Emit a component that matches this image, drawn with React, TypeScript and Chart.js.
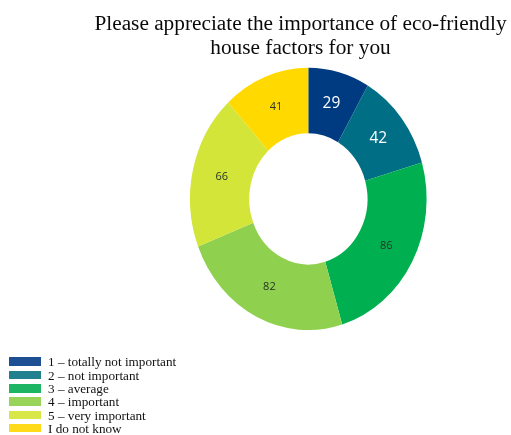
import React, { useEffect, useRef } from "react";
import { Chart, registerables } from "chart.js";

Chart.register(...registerables);

// ---- data ----
const categories = [
  "1 – totally not important",
  "2 – not important",
  "3 – average",
  "4 – important",
  "5 – very important",
  "I do not know",
];
const values = [29, 42, 86, 82, 66, 41];
const titleLines = [
  "Please appreciate the importance of eco-friendly",
  "house factors for you",
];

// ---- styles ----
const sliceColors = ["#003b82", "#006e84", "#00b050", "#8fd14f", "#d3e538", "#ffd900"];
const legendColors = ["#1d4f93", "#22808f", "#1db563", "#98d35a", "#d9e848", "#ffda1a"];
const labelColors = ["#ffffff", "#ffffff", "#263326", "#263326", "#263326", "#263326"];
const labelFonts = [
  "15.5px 'Open Sans'",
  "15.5px 'Open Sans'",
  "11px 'Open Sans'",
  "11px 'Open Sans'",
  "11px 'Open Sans'",
  "11px 'Open Sans'",
];
const Y_STRETCH = 1.109;

const ellipsePlugin = {
  id: "ellipseDonut",
  beforeDatasetsDraw(chart: any) {
    const arc = chart.getDatasetMeta(0).data[0];
    if (!arc) return;
    const { x, y } = arc;
    const ctx = chart.ctx;
    ctx.save();
    ctx.translate(x, y);
    ctx.scale(1, Y_STRETCH);
    ctx.translate(-x, -y);
  },
  afterDatasetsDraw(chart: any) {
    const ctx = chart.ctx;
    ctx.restore();
    const meta = chart.getDatasetMeta(0);
    const data = chart.data.datasets[0].data;
    meta.data.forEach((arc: any, i: number) => {
      const p = arc.getProps(
        ["x", "y", "startAngle", "endAngle", "innerRadius", "outerRadius"],
        true
      );
      const a = (p.startAngle + p.endAngle) / 2;
      const r = (p.innerRadius + p.outerRadius) / 2;
      const lx = p.x + Math.cos(a) * r;
      const ly = p.y + Math.sin(a) * r * Y_STRETCH;
      ctx.save();
      ctx.font = labelFonts[i];
      ctx.fillStyle = labelColors[i];
      ctx.textAlign = "center";
      ctx.textBaseline = "middle";
      ctx.fillText(String(data[i]), lx, ly);
      ctx.restore();
    });
  },
};

export default function App() {
  const canvasRef = useRef<HTMLCanvasElement | null>(null);

  useEffect(() => {
    const canvas = canvasRef.current;
    if (!canvas) return;
    const chart = new Chart(canvas, {
      type: "doughnut",
      data: {
        labels: categories,
        datasets: [
          {
            data: values,
            backgroundColor: sliceColors,
            borderWidth: 0,
            clip: false,
          } as any,
        ],
      },
      options: {
        responsive: false,
        animation: false,
        devicePixelRatio: 1,
        cutout: "50%",
        layout: {
          padding: { left: 190, right: 84.4, top: 80.6, bottom: 117.8 },
        },
        plugins: {
          legend: { display: false },
          tooltip: { enabled: false },
          title: { display: false },
        },
      },
      plugins: [ellipsePlugin],
    });
    return () => chart.destroy();
  }, []);

  return (
    <div
      style={{
        position: "absolute",
        left: 0,
        top: 0,
        width: 511,
        height: 435,
        background: "#ffffff",
        overflow: "hidden",
      }}
    >
      <canvas
        ref={canvasRef}
        width={511}
        height={435}
        style={{ position: "absolute", left: 0, top: 0, width: 511, height: 435 }}
      />
      <div
        style={{
          position: "absolute",
          left: 90,
          top: 11,
          width: 421,
          textAlign: "center",
          fontFamily: "'Liberation Serif', serif",
          fontSize: 21.3,
          lineHeight: "24px",
          color: "#0a0a0a",
          whiteSpace: "nowrap",
        }}
      >
        {titleLines.map((t, i) => (
          <div key={i}>{t}</div>
        ))}
      </div>
      {categories.map((c, i) => (
        <div
          key={c}
          style={{
            position: "absolute",
            left: 9,
            top: 355.3 + i * 13.3,
            height: 13.3,
            display: "flex",
            alignItems: "flex-start",
            whiteSpace: "nowrap",
          }}
        >
          <div
            style={{
              width: 31.5,
              height: 8.7,
              marginTop: 2,
              background: legendColors[i],
            }}
          />
          <div
            style={{
              marginLeft: 7.5,
              fontFamily: "'Liberation Serif', serif",
              fontSize: 13.2,
              lineHeight: "13.3px",
              color: "#111111",
            }}
          >
            {c}
          </div>
        </div>
      ))}
    </div>
  );
}
